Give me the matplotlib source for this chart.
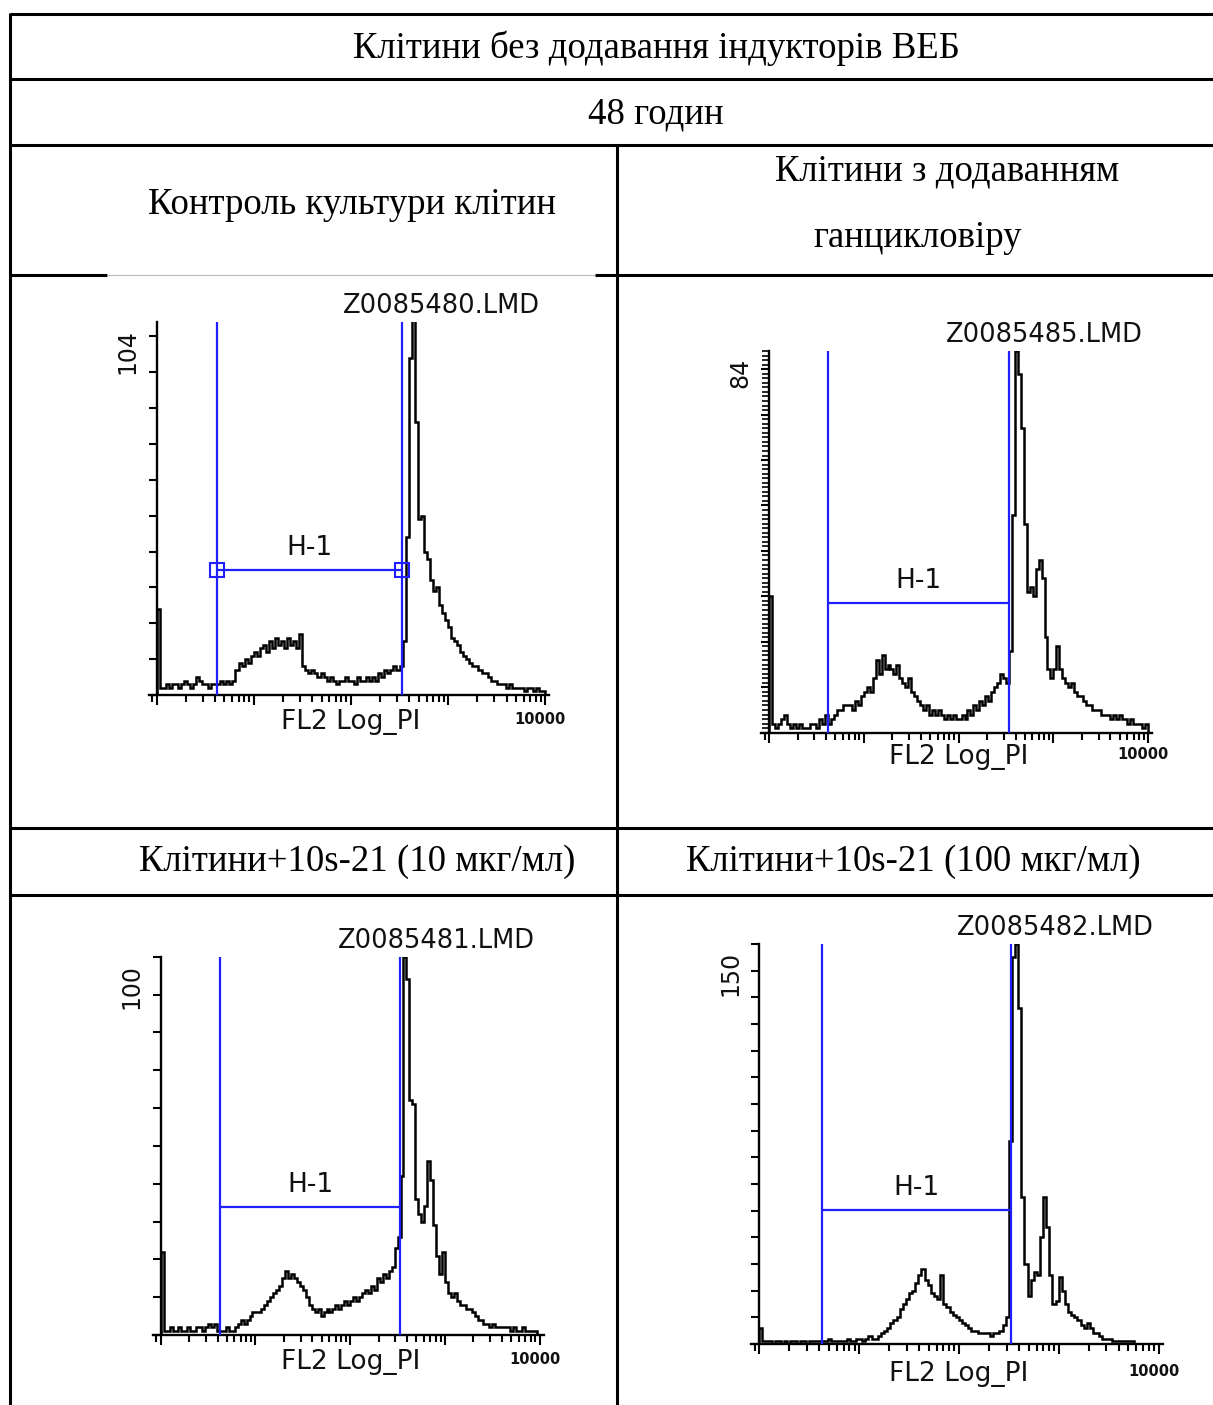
import matplotlib
matplotlib.use('Agg')
import matplotlib.pyplot as plt
import numpy as np
from matplotlib.ticker import LogLocator, NullFormatter, FixedLocator

W, H = 1213, 1405

# table text
title_row = 'Клітини без додавання індукторів ВЕБ'
time_row = '48 годин'
head_ctrl = 'Контроль культури клітин'
head_gcv = ['Клітини з додаванням', 'ганцикловіру']
head_10 = 'Клітини+10s-21 (10 мкг/мл)'
head_100 = 'Клітини+10s-21 (100 мкг/мл)'

# histogram files and y-axis maximum (counts)
files = ['Z0085480.LMD', 'Z0085485.LMD', 'Z0085481.LMD', 'Z0085482.LMD']
y_max = [104, 84, 100, 150]

# H-1 gate: lower edge, upper edge (FL2, log scale) and marker level (counts)
gate_lo = [4.16, 4.22, 4.23, 4.22]
gate_hi = [336, 343, 336, 333]
gate_level = [34.8, 28.5, 33.9, 50.2]

# FL2 Log_PI histograms, 128 channels over 4 decades (1 .. 10000)
counts_ctrl = [24,
               2, 2, 3, 2, 3, 3, 2, 3, 4, 3, 2, 3, 5, 4, 3, 3, 2, 3,
               3,
               3, 4, 3, 4, 3, 4,
               7, 9, 8, 10, 9, 11,
               12, 11, 13, 14, 12,
               15, 13, 16, 14, 15, 13, 16, 14, 15, 13, 17,
               8,
               7, 6, 7, 6, 5, 6, 5, 4, 5, 4, 3, 4,
               4, 5, 4, 4, 3, 5, 4, 4, 5, 4, 5, 4,
               6, 5, 7, 6, 7, 8, 7, 8,
               15,
               44, 94, 108, 76, 49, 50, 40, 38, 32, 29, 30, 25, 23, 21, 19,
               16, 15, 14, 12, 11, 10, 9, 8, 8, 7, 6, 6, 5, 4, 4, 3, 3, 3, 2, 3,
               2, 2, 2, 2, 1, 2, 2, 1, 2, 1, 1]

counts_gcv = [30,
              2, 1, 2, 3, 4, 2, 1, 2, 1,
              2, 1, 1, 1, 2, 2, 1, 3, 2, 4,
              2, 3, 4, 5, 5, 6,
              6, 6, 5, 7, 6, 8,
              9, 10, 9, 12,
              16, 13, 17, 14, 15,
              14, 13, 15, 12,
              11, 10, 12, 9, 8, 7,
              6, 5, 6, 4, 5, 4, 5, 4,
              3, 4, 3, 4, 3, 3, 4, 3,
              5, 4, 6, 5, 7, 6,
              8, 7, 9, 10, 11, 13, 12,
              11,
              18, 48, 84, 79, 67, 46, 31, 32, 30, 36, 38, 34, 21,
              14, 12, 14, 19, 14, 12,
              11, 10, 11, 9,
              8, 8, 7,
              6, 6, 5, 5,
              5, 4, 4, 4, 3, 4,
              3, 4, 3, 3, 2, 3,
              2, 2, 2, 1, 2]

counts_10 = [22,
             1, 1, 2, 1, 1, 2, 1, 1, 2, 1, 1, 2, 2, 1, 2, 3, 2,
             3,
             1, 1, 1, 2, 1, 1, 2,
             3, 4, 3, 4, 5, 6,
             6, 6, 7, 8,
             9, 10, 11, 12, 13,
             15, 17, 15, 16, 15, 14,
             13, 12, 10,
             8, 7, 6, 7, 5, 6, 7, 6,
             7, 8, 7, 8, 9, 8, 9, 10, 9, 10, 11,
             12, 11, 13, 12,
             15, 14, 16, 15, 17, 18,
             23, 26, 42,
             100, 94, 62, 61, 36, 32, 30, 34, 46, 41, 29, 21, 16, 22, 14, 11, 10, 11,
             9, 8, 8, 7, 7, 6, 5, 4, 4, 3, 3, 2, 3, 2, 2, 2, 2, 2, 1, 2, 1, 1, 2,
             1, 1, 1, 1, 0]

counts_100 = [6,
              1, 1, 1, 0, 1, 1, 0, 1, 0, 1, 1, 0, 1, 1, 0, 1, 1, 1, 1,
              1, 1, 2, 1, 1, 1, 1, 1, 2, 1, 1, 2,
              2, 1, 2, 3, 2, 2, 3, 4,
              5, 6, 8, 9, 10,
              13, 15, 17, 19, 20, 23,
              26, 28, 24, 22, 19,
              18, 17, 26,
              15, 14, 12, 11, 10, 9, 8,
              7, 6, 5, 5, 4, 4,
              4, 4, 3, 4, 4, 5, 7,
              10,
              76, 145, 150, 126, 55, 30, 18, 24, 27, 26, 40, 55, 44, 26, 15, 16, 25,
              20, 15, 12,
              11, 10, 9, 7, 6, 8, 6, 4, 4, 3, 2, 2, 2, 1, 1, 1, 1, 1, 1, 1, 0, 0,
              0, 0, 0, 0, 0, 0]

all_counts = [counts_ctrl, counts_gcv, counts_10, counts_100]

BLUE = '#1f1fff'

fig = plt.figure(figsize=(W / 100, H / 100), dpi=100)
fig.patch.set_facecolor('white')

# background axes in pixel units for the table grid and cell text
bg = fig.add_axes([0, 0, 1, 1])
bg.set_xlim(0, W)
bg.set_ylim(H, 0)
bg.axis('off')

def rule(x0, x1, y0, y1, lw=2.2, color='black'):
    bg.plot([x0, x1], [y0, y1], color=color, lw=lw, solid_capstyle='butt')

# horizontal rules
for y in [14, 79, 145, 828, 895]:
    rule(10, W, y, y)
rule(10, 107, 275, 275)
rule(107, 595, 275, 275, lw=0.8, color='#bdbdbd')
rule(595, W, 275, 275)
# vertical rules
rule(10, 10, 13, H)
rule(617, 617, 144, H)

serif = dict(family='Liberation Serif', fontsize=26.5, ha='center', va='center', color='black')
bg.text(656, 48, title_row, **serif)
bg.text(656, 114, time_row, **serif)
bg.text(352, 205, head_ctrl, **serif)
bg.text(947, 171, head_gcv[0], **serif)
bg.text(918, 238, head_gcv[1], **serif)
bg.text(357, 862, head_10, **serif)
bg.text(913, 862, head_100, **serif)

# panel layout in pixels: y-axis x, decade width, baseline y, axis top y, x-label gap
layout = [(156.5, 97.2, 695, 322, 27),
          (769, 94.8, 732.7, 351, 24),
          (160.7, 94.75, 1335, 956.7, 27),
          (759.3, 99.8, 1344, 944, 30)]

edges = 10 ** (np.arange(129) * 4 / 128)
mono = dict(family='DejaVu Sans', color='#111111')

for k in range(4):
    x0, dec, yb, yt, gap = layout[k]
    left = x0 - 8
    right = x0 + 4 * dec + 4
    ax = fig.add_axes([left / W, 1 - yb / H, (right - left) / W, (yb - yt) / H])
    ax.patch.set_alpha(0)
    ax.set_xscale('log')
    ax.set_xlim(10 ** (-8 / dec), 10 ** (4 + 4 / dec))
    ax.set_ylim(0, y_max[k])

    ax.stairs(all_counts[k], edges, baseline=0, color='black', lw=1.8, zorder=2)

    # gate
    ax.vlines([gate_lo[k], gate_hi[k]], 0, y_max[k], color=BLUE, lw=1.6, zorder=3)
    ax.hlines(gate_level[k], gate_lo[k], gate_hi[k], color=BLUE, lw=1.6, zorder=3)
    if k == 0:
        ax.plot([gate_lo[k], gate_hi[k]], [gate_level[k]] * 2, 's', ms=10,
                mfc='none', mec=BLUE, mew=1.5, zorder=3)
    ax.annotate('H-1', xy=(np.sqrt(gate_lo[k] * gate_hi[k]), gate_level[k]),
                xytext=(0, 16), textcoords='offset points', ha='center', va='center',
                fontsize=19, **mono)

    # axes styling
    for s in ['top', 'right']:
        ax.spines[s].set_visible(False)
    ax.spines['left'].set_position(('data', 1.0))
    ax.spines['left'].set_linewidth(1.7)
    ax.spines['bottom'].set_linewidth(1.7)
    ax.xaxis.set_major_locator(LogLocator(base=10, numticks=10))
    ax.xaxis.set_minor_locator(LogLocator(base=10, subs=np.arange(2, 10), numticks=10))
    ax.xaxis.set_major_formatter(NullFormatter())
    ax.xaxis.set_minor_formatter(NullFormatter())
    ax.tick_params(axis='x', which='major', direction='out', length=7, width=1.5)
    ax.tick_params(axis='x', which='minor', direction='out', length=5, width=1.5)
    ax.yaxis.set_major_locator(FixedLocator(np.arange(0, y_max[k] + 1, 10)))
    if k == 1:
        ax.yaxis.set_minor_locator(FixedLocator(np.arange(0, y_max[k] + 1, 1)))
    ax.yaxis.set_major_formatter(NullFormatter())
    ax.tick_params(axis='y', which='major', direction='out', length=5.5, width=1.5)
    ax.tick_params(axis='y', which='minor', direction='out', length=5, width=1.2)

    # panel texts (pixel coordinates)
    xe = x0 + 4 * dec
    bg.text(xe - 5, yt - 16, files[k], ha='right', va='center', fontsize=18.5, **mono)
    bg.text(x0 - 29, yt + 7, str(y_max[k]), rotation=90, ha='center', va='top',
            fontsize=17, **mono)
    bg.text(x0 + 2 * dec, yb + gap, 'FL2 Log_PI', ha='center', va='center',
            fontsize=19, **mono)
    bg.text(xe - 5, yb + gap - 2, '10000', ha='center', va='center',
            fontsize=10.5, fontweight='bold', **mono)

fig.savefig('out.png', dpi=100, facecolor='white')
